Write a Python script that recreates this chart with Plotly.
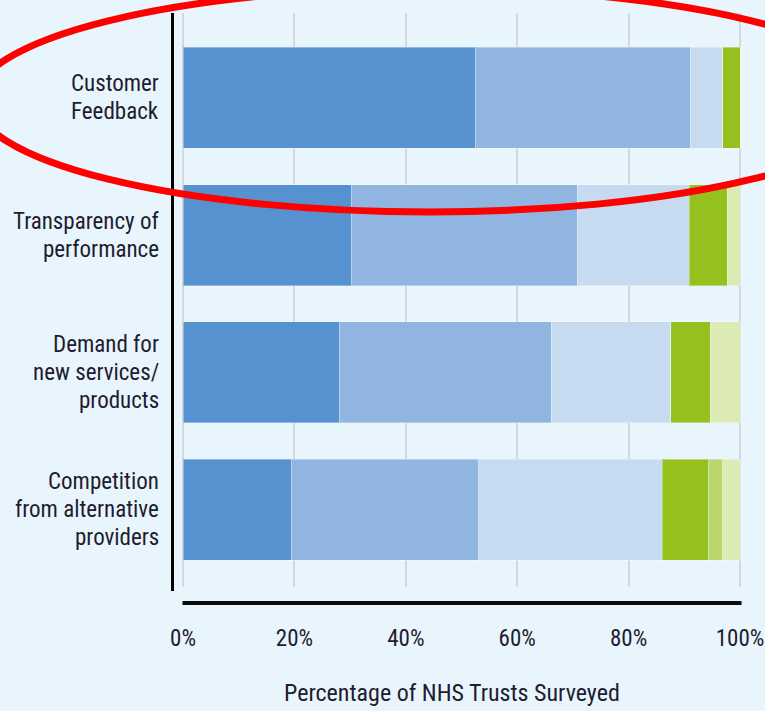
import plotly.graph_objects as go

# Survey categories (top to bottom) and how each label wraps
categories = [
    "Customer Feedback",
    "Transparency of performance",
    "Demand for new services/products",
    "Competition from alternative providers",
]
label_lines = [
    ["Customer", "Feedback"],
    ["Transparency of", "performance"],
    ["Demand for", "new services/", "products"],
    ["Competition", "from alternative", "providers"],
]

# Share of NHS Trusts in each response band (%)
very_high = [52.5, 30.2, 28.1, 19.4]
high = [38.6, 40.6, 38.0, 33.7]
moderate = [5.8, 20.1, 21.5, 32.9]
low = [3.1, 6.8, 7.1, 8.4]
very_low = [0.0, 0.0, 0.0, 2.5]
none_ = [0.0, 2.3, 5.3, 3.1]

x_ticks = [0, 20, 40, 60, 80, 100]
x_tick_text = ["0%", "20%", "40%", "60%", "80%", "100%"]

series = [
    ("Very high", very_high, "#5592cf"),
    ("High", high, "#90b5e0"),
    ("Moderate", moderate, "#c6dbef"),
    ("Low", low, "#95c11f"),
    ("Very low", very_low, "#bbd76b"),
    ("None", none_, "#dceab4"),
]

FONT = "Roboto Condensed, DejaVu Sans Condensed, sans-serif"
TEXT = "#1e1c30"
BG = "#e9f5fd"

W_PX, H_PX = 765, 711
L, R, T, B = 170, 745, 13, 587  # plot area in pixels
X0_PX, PX_PER_PCT = 183, 5.57    # where 0% sits and pixels per percent
ROW0_PX, ROW_STEP = 97.8, 137.3  # centre of the first row and row pitch


def px_x(p):
    return (p - L) / (R - L)


def px_y(p):
    return (B - p) / (B - T)


fig = go.Figure()
for name, vals, color in series:
    fig.add_trace(go.Bar(
        y=categories, x=vals, name=name, orientation="h",
        marker=dict(color=color, line=dict(color="rgba(255,255,255,0.35)", width=1)),
        width=0.736,
    ))

fig.update_layout(
    width=W_PX, height=H_PX,
    barmode="stack",
    showlegend=False,
    paper_bgcolor=BG, plot_bgcolor=BG,
    margin=dict(l=L, r=W_PX - R, t=T, b=H_PX - B, pad=0, autoexpand=False),
    font=dict(family=FONT, color=TEXT),
    xaxis=dict(
        range=[(L - X0_PX) / PX_PER_PCT, (R - X0_PX) / PX_PER_PCT],
        tickmode="array", tickvals=x_ticks, ticktext=x_tick_text,
        tickfont=dict(size=23, family=FONT, color=TEXT),
        showgrid=True, gridcolor="#d4d8dc", gridwidth=1.5,
        zeroline=False, showline=False, ticks="",
        ticklabelstandoff=35, automargin=False, ticklabeloverflow="allow",
    ),
    yaxis=dict(
        categoryorder="array", categoryarray=categories,
        range=[(B - ROW0_PX) / ROW_STEP, (T - ROW0_PX) / ROW_STEP],
        showticklabels=False,
        showgrid=False, zeroline=False, showline=False, ticks="",
        automargin=False,
    ),
)

shapes = [
    # left axis rule
    dict(type="line", xref="paper", yref="paper",
         x0=px_x(172.5), x1=px_x(172.5), y0=px_y(13), y1=px_y(591),
         line=dict(color="#000000", width=3)),
    # bottom axis rule
    dict(type="line", xref="paper", yref="paper",
         x0=px_x(182.5), x1=px_x(741.5), y0=px_y(603), y1=px_y(603),
         line=dict(color="#0a0a0a", width=4)),
    # red highlight ellipse around the top row
    dict(type="circle", xref="paper", yref="paper",
         x0=px_x(-25), x1=px_x(885), y0=px_y(212), y1=px_y(-12),
         line=dict(color="#ff0000", width=7), layer="above"),
]
fig.update_layout(shapes=shapes)

# row labels, one text per line so the leading stays tight
LINE_GAP = 28
for cat, lines in zip(categories, label_lines):
    n = len(lines)
    for j, line in enumerate(lines):
        fig.add_annotation(
            text=line, xref="paper", yref="y", x=px_x(161), y=cat,
            yshift=-(j - (n - 1) / 2) * LINE_GAP,
            xanchor="right", yanchor="middle", showarrow=False,
            font=dict(size=23, family=FONT, color=TEXT),
        )

fig.add_annotation(
    text="Percentage of NHS Trusts Surveyed",
    xref="paper", yref="paper", x=px_x(452), y=px_y(693),
    xanchor="center", yanchor="middle", showarrow=False,
    font=dict(size=24, family=FONT, color=TEXT),
)

fig.write_html("out.html")
